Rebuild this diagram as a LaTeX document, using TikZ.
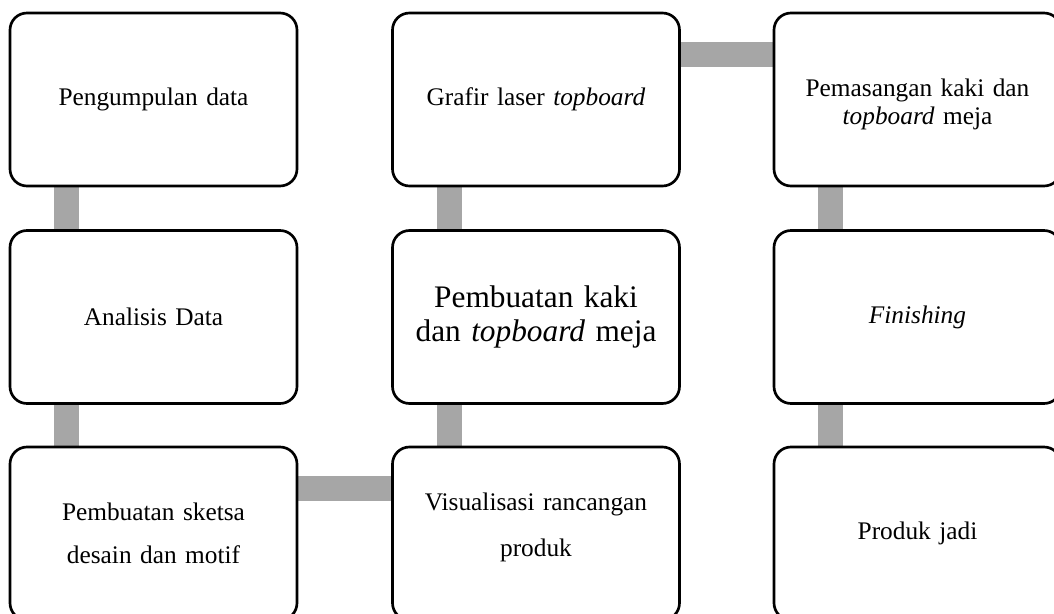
\documentclass[tikz,border=0pt]{standalone}
\usepackage{fontspec}
\setmainfont{Liberation Serif}
\usetikzlibrary{positioning,calc,backgrounds}
\definecolor{bargray}{RGB}{166,166,166}
\tikzset{
  box/.style={draw=black, line width=2pt, rounded corners=12.75pt, fill=white, align=center, minimum width=215.25pt, minimum height=129.75pt, text width=195pt, font=\fontsize{19}{21}\selectfont},
  loose/.style={font=\fontsize{19}{#1}\selectfont},
  big/.style={font=\fontsize{23.5}{25.5}\selectfont},
  bar/.style={draw=bargray, line width=18.75pt}
}
\begin{document}
\begin{tikzpicture}[x=0.75pt, y=-0.75pt]
  \clip (0,0) rectangle (1054,614);
  % first column
  \node[box] (data) at (153.5,99.5) {Pengumpulan data};
  \node[box] (analisis) at (153.5,317) {Analisis Data};
  \node[box, loose=32pt, text depth=32pt] (sketsa) at (153.5,533.5) {Pembuatan sketsa\\ desain dan motif};
  % second column
  \node[box] (grafir) at (536,99.5) {Grafir laser \textit{topboard}};
  \node[box, big] (kaki) at (536,317) {Pembuatan kaki\\ dan \textit{topboard} meja};
  \node[box, loose=35pt, text depth=48pt] (visual) at (536,533.5) {Visualisasi rancangan\\ produk};
  % third column
  \node[box, text height=21pt] (pasang) at (917.5,99.5) {Pemasangan kaki dan\\ \textit{topboard} meja};
  \node[box] (finish) at (917.5,317) {\textit{Finishing}};
  \node[box] (produk) at (917.5,533.5) {Produk jadi};
  \begin{scope}[on background layer]
    \draw[bar] ($(data.south west)+(58,0)$) -- ($(analisis.north west)+(58,0)$);
    \draw[bar] ($(analisis.south west)+(58,0)$) -- ($(sketsa.north west)+(58,0)$);
    \draw[bar] ($(sketsa.north east)+(0,42.5)$) -- ($(visual.north west)+(0,42.5)$);
    \draw[bar] ($(visual.north west)+(58,0)$) -- ($(kaki.south west)+(58,0)$);
    \draw[bar] ($(kaki.north west)+(58,0)$) -- ($(grafir.south west)+(58,0)$);
    \draw[bar] ($(grafir.north east)+(0,42.5)$) -- ($(pasang.north west)+(0,42.5)$);
    \draw[bar] ($(pasang.south west)+(58,0)$) -- ($(finish.north west)+(58,0)$);
    \draw[bar] ($(finish.south west)+(58,0)$) -- ($(produk.north west)+(58,0)$);
  \end{scope}
\end{tikzpicture}
\end{document}
